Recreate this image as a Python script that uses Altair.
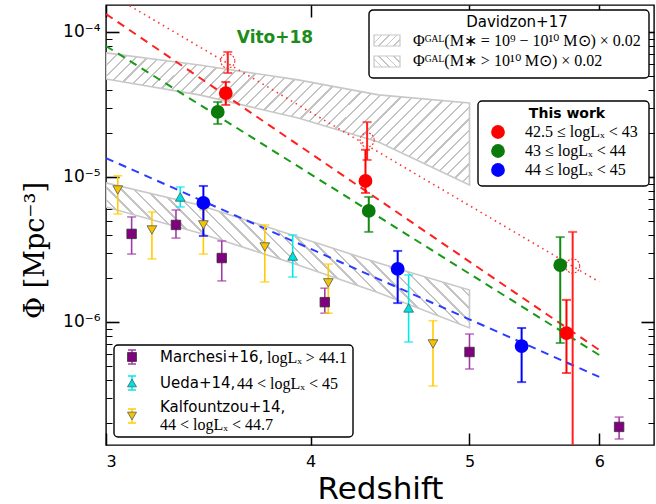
import altair as alt
import pandas as pd

# ---------------- data ----------------
# Vito+18, 42.5 <= logLx < 43 (filled) and the open-circle version
red_z = [3.55, 4.32, 5.73]
red_phi = [3.79e-5, 9.38e-6, 8.39e-7]
red_hi = [4.52e-5, 1.54e-5, 1.42e-6]
red_lo = [3.14e-5, 7.76e-6, 4.45e-7]

red_open_z = [3.56, 4.33, 5.78]
red_open_phi = [6.31e-5, 1.80e-5, 2.43e-6]
red_open_hi = [7.28e-5, 2.39e-5, 4.18e-6]
red_open_lo = [5.21e-5, 1.31e-5, 1.0e-9]

# 43 <= logLx < 44
green_z = [3.51, 4.34, 5.68]
green_phi = [2.81e-5, 5.83e-6, 2.47e-6]
green_hi = [3.29e-5, 7.28e-6, 3.85e-6]
green_lo = [2.32e-5, 4.18e-6, 7.16e-7]

# 44 <= logLx < 45
blue_z = [3.44, 4.52, 5.38]
blue_phi = [6.62e-6, 2.32e-6, 6.82e-7]
blue_hi = [8.67e-6, 3.09e-6, 9.09e-7]
blue_lo = [3.92e-6, 1.35e-6, 3.85e-7]

# Marchesi+16
mar_z = [3.11, 3.31, 3.53, 4.08, 5.00, 6.17]
mar_phi = [4.05e-6, 4.67e-6, 2.76e-6, 1.37e-6, 6.21e-7, 1.89e-7]
mar_hi = [5.30e-6, 5.92e-6, 3.62e-6, 1.71e-6, 8.26e-7, 2.21e-7]
mar_lo = [2.94e-6, 3.79e-6, 1.92e-6, 1.15e-6, 4.74e-7, 1.56e-7]

# Ueda+14
ueda_z = [3.33, 3.90, 4.59]
ueda_phi = [7.28e-6, 2.85e-6, 1.25e-6]
ueda_hi = [8.53e-6, 3.98e-6, 2.11e-6]
ueda_lo = [6.21e-6, 2.04e-6, 7.28e-7]

# Kalfountzou+14
kal_z = [3.05, 3.20, 3.44, 3.75, 4.10, 4.75]
kal_phi = [8.13e-6, 4.31e-6, 4.67e-6, 3.29e-6, 1.86e-6, 7.05e-7]
kal_hi = [1.02e-5, 5.74e-6, 5.92e-6, 4.67e-6, 2.51e-6, 1.02e-6]
kal_lo = [5.56e-6, 2.72e-6, 2.94e-6, 1.89e-6, 1.15e-6, 3.62e-7]

# model curves (end points)
fit_z = [3.0, 6.0]
red_fit = [1.33e-4, 6.41e-7]
green_fit = [8.0e-5, 5.92e-7]
blue_fit = [1.35e-5, 4.18e-7]
red_dot_fit = [1.89e-4, 1.89e-6]

# Davidzon+17 mass functions x 0.02
dav_z = [3.0, 3.42, 3.93, 4.40, 5.0]
dav1_up = [7.17e-5, 5.91e-5, 4.67e-5, 3.68e-5, 3.24e-5]
dav1_lo = [4.74e-5, 3.68e-5, 2.55e-5, 1.74e-5, 8.81e-6]
dav2_up = [9.10e-6, 6.41e-6, 3.86e-6, 2.55e-6, 1.66e-6]
dav2_lo = [6.21e-6, 4.11e-6, 2.47e-6, 1.59e-6, 9.10e-7]

X_DOMAIN = [3.0, 6.48]
Y_DOMAIN = [1.418e-7, 1.534e-4]
W, H = 548, 440

xs = alt.Scale(type="log", domain=X_DOMAIN, nice=False, zero=False)
ys = alt.Scale(type="log", domain=Y_DOMAIN, nice=False, zero=False)

SANS = "DejaVu Sans"
SERIF = "Liberation Serif"
HATCH = "#c4c4c4"


def X(field):
    return alt.X(f"{field}:Q", scale=xs, axis=None)


def Y(field):
    return alt.Y(f"{field}:Q", scale=ys, axis=None)


def hatch(w_px, h_px, spacing, direction, frac=0.2):
    """Striped linear gradient that looks like a hatch pattern."""
    k = (w_px + h_px) / (w_px ** 2 + h_px ** 2)
    n = max(1, round((w_px + h_px) / 2 ** 0.5 / spacing))
    if direction == "/":
        x1, y1, x2, y2 = 0, 0, k * w_px, k * h_px
    else:
        x1, y1, x2, y2 = 0, 1, k * w_px, 1 - k * h_px
    stops = []
    for i in range(n):
        a, b, c = i / n, (i + frac) / n, (i + 1) / n
        stops += [
            {"offset": a, "color": HATCH},
            {"offset": b, "color": HATCH},
            {"offset": b, "color": "white"},
            {"offset": c, "color": "white"},
        ]
    return {"gradient": "linear", "x1": x1, "y1": y1, "x2": x2, "y2": y2, "stops": stops}


def band(z, up, lo, grad):
    df = pd.DataFrame({"z": z, "up": up, "lo": lo})
    return alt.Chart(df).mark_area(
        fill=grad, stroke="#c8c8c8", strokeWidth=1.6, clip=True
    ).encode(x=X("z"), y=Y("up"), y2="lo")


def fit_line(phi, color, dash, width=2.0):
    df = pd.DataFrame({"z": fit_z, "phi": phi})
    return alt.Chart(df).mark_line(
        color=color, strokeDash=dash, strokeWidth=width, clip=True
    ).encode(x=X("z"), y=Y("phi"))


def errbars(z, phi, lo, hi, color, width=1.6, cap=9):
    df = pd.DataFrame({"z": z, "phi": phi, "lo": lo, "hi": hi})
    base = alt.Chart(df)
    rule = base.mark_rule(color=color, strokeWidth=width, clip=True).encode(
        x=X("z"), y=Y("lo"), y2="hi"
    )
    cap_hi = base.mark_tick(
        color=color, orient="horizontal", size=cap, thickness=width, clip=True
    ).encode(x=X("z"), y=Y("hi"))
    cap_lo = base.transform_filter(f"datum.lo >= {Y_DOMAIN[0]}").mark_tick(
        color=color, orient="horizontal", size=cap, thickness=width, clip=True
    ).encode(x=X("z"), y=Y("lo"))
    return [rule, cap_hi, cap_lo]


def points(z, phi, **mark):
    df = pd.DataFrame({"z": z, "phi": phi})
    return alt.Chart(df).mark_point(opacity=1, clip=True, **mark).encode(x=X("z"), y=Y("phi"))


def label(text, x, y, size=15, font=SANS, weight="normal", align="left", color="black"):
    return alt.Chart(pd.DataFrame({"t": [text]})).mark_text(
        align=align, baseline="middle", font=font, fontSize=size,
        fontWeight=weight, color=color
    ).encode(x=alt.value(x), y=alt.value(y), text="t:N")


def box(x0, x1, y0, y1):
    return alt.Chart(pd.DataFrame({"a": [0]})).mark_rect(
        fill="white", stroke="black", strokeWidth=1.4, cornerRadius=4
    ).encode(x=alt.value(x0), x2=alt.value(x1), y=alt.value(y0), y2=alt.value(y1))


def swatch(x0, x1, y0, y1, grad):
    return alt.Chart(pd.DataFrame({"a": [0]})).mark_rect(
        fill=grad, stroke="#c8c8c8", strokeWidth=1.2
    ).encode(x=alt.value(x0), x2=alt.value(x1), y=alt.value(y0), y2=alt.value(y1))


def sym(x, y, **mark):
    return alt.Chart(pd.DataFrame({"a": [0]})).mark_point(opacity=1, **mark).encode(
        x=alt.value(x), y=alt.value(y)
    )


def vbar(x, y0, y1, color, cap=8):
    d = pd.DataFrame({"a": [0]})
    return [
        alt.Chart(d).mark_rule(color=color, strokeWidth=1.5).encode(
            x=alt.value(x), y=alt.value(y0), y2=alt.value(y1)),
        alt.Chart(d).mark_rule(color=color, strokeWidth=1.5).encode(
            x=alt.value(x - cap / 2), x2=alt.value(x + cap / 2), y=alt.value(y0)),
        alt.Chart(d).mark_rule(color=color, strokeWidth=1.5).encode(
            x=alt.value(x - cap / 2), x2=alt.value(x + cap / 2), y=alt.value(y1)),
    ]


# ---------------- layers ----------------
layers = []
layers.append(band(dav_z, dav1_up, dav1_lo, hatch(363, 132, 8, "/")))
layers.append(band(dav_z, dav2_up, dav2_lo, hatch(363, 145, 9, "\\")))

layers.append(fit_line(red_dot_fit, "#ff3030", [1.5, 4], 1.6))
layers.append(fit_line(red_fit, "#ff2020", [8, 6]))
layers.append(fit_line(green_fit, "#169a16", [8, 6]))
layers.append(fit_line(blue_fit, "#2a3cff", [8, 6]))

MAR_BAR = "#a23aa8"
UEDA_C = "#00e8e8"
KAL_C = "#ffcc00"

layers += errbars(mar_z, mar_phi, mar_lo, mar_hi, MAR_BAR)
layers += errbars(kal_z, kal_phi, kal_lo, kal_hi, KAL_C)
layers += errbars(ueda_z, ueda_phi, ueda_lo, ueda_hi, UEDA_C)
layers += errbars(red_open_z, red_open_phi, red_open_lo, red_open_hi, "#ff2020", 2.0)
layers += errbars(green_z, green_phi, green_lo, green_hi, "#118a11", 2.0)
layers += errbars(red_z, red_phi, red_lo, red_hi, "#ff0000", 2.0)
layers += errbars(blue_z, blue_phi, blue_lo, blue_hi, "#0000ff", 2.0)

layers.append(points(mar_z, mar_phi, shape="square", size=90, fill="#800080",
                     stroke="#333333", strokeWidth=0.8, fillOpacity=1))
layers.append(points(kal_z, kal_phi, shape="triangle-down", size=95, fill="#f5c400",
                     stroke="#555555", strokeWidth=0.8, fillOpacity=1))
layers.append(points(ueda_z, ueda_phi, shape="triangle-up", size=95, fill="#00e0e0",
                     stroke="#336666", strokeWidth=0.8, fillOpacity=1))
layers.append(points(red_open_z, red_open_phi, shape="circle", size=200, filled=False,
                     color="#ff3030", strokeWidth=1.1, strokeDash=[2, 1.5]))
layers.append(points(green_z, green_phi, shape="circle", size=190, filled=True, color="#0a7a0a"))
layers.append(points(red_z, red_phi, shape="circle", size=190, filled=True, color="#ff0000"))
layers.append(points(blue_z, blue_phi, shape="circle", size=190, filled=True, color="#0000ff"))

# annotation
layers.append(label("Vito+18", 169, 33, size=17, weight="bold", align="center", color="#1a8c1a"))

# legend: Davidzon+17
layers.append(box(263, 543, 5, 73))
layers.append(label("Davidzon+17", 411, 17, size=15, align="center"))
layers.append(swatch(268, 294, 30, 41, hatch(26, 11, 5, "/")))
layers.append(swatch(268, 294, 51, 62, hatch(26, 11, 5, "\\")))
layers.append(label("Φᴳᴬᴸ(M∗ = 10⁹ − 10¹⁰ M⊙) × 0.02", 307, 36, size=16, font=SERIF))
layers.append(label("Φᴳᴬᴸ(M∗ > 10¹⁰ M⊙) × 0.02", 307, 56, size=16, font=SERIF))

# legend: this work
layers.append(box(372, 543, 96, 181))
layers.append(label("This work", 461, 109, size=14, weight="bold", align="center"))
layers.append(sym(392, 127, shape="circle", size=190, filled=True, color="#ff0000"))
layers.append(sym(392, 146, shape="circle", size=190, filled=True, color="#0a7a0a"))
layers.append(sym(392, 165, shape="circle", size=190, filled=True, color="#0000ff"))
layers.append(label("42.5 ≤ logLₓ < 43", 419, 127, size=16, font=SERIF))
layers.append(label("43 ≤ logLₓ < 44", 419, 146, size=16, font=SERIF))
layers.append(label("44 ≤ logLₓ < 45", 419, 165, size=16, font=SERIF))

# legend: literature
layers.append(box(8, 247, 340, 432))
layers += vbar(26, 345, 359, MAR_BAR)
layers.append(sym(26, 352, shape="square", size=80, fill="#800080", stroke="#333333",
                  strokeWidth=0.8, fillOpacity=1))
layers += vbar(26, 371, 385, UEDA_C)
layers.append(sym(26, 378, shape="triangle-up", size=80, fill="#00e0e0", stroke="#336666",
                  strokeWidth=0.8, fillOpacity=1))
layers += vbar(26, 404, 418, KAL_C)
layers.append(sym(26, 411, shape="triangle-down", size=80, fill="#f5c400", stroke="#555555",
                  strokeWidth=0.8, fillOpacity=1))
layers.append(label("Marchesi+16,", 54, 352, size=15))
layers.append(label("logLₓ > 44.1", 161, 353, size=16, font=SERIF))
layers.append(label("Ueda+14,", 54, 378, size=15))
layers.append(label("44 < logLₓ < 45", 131, 379, size=16, font=SERIF))
layers.append(label("Kalfountzou+14,", 54, 402, size=15))
layers.append(label("44 < logLₓ < 44.7", 54, 420, size=16, font=SERIF))

# ---------------- axes ----------------
x_ticks = [3, 4, 5, 6]
y_major = [1e-6, 1e-5, 1e-4]
y_all = [m * 10.0 ** e for e in (-7, -6, -5, -4) for m in range(1, 10)
         if Y_DOMAIN[0] <= m * 10.0 ** e <= Y_DOMAIN[1]]
is_major = "abs(log(datum.value)/LN10 - round(log(datum.value)/LN10)) < 0.001"
ax_df = pd.DataFrame({"z": [4.0], "phi": [1e-5]})


def axis_layer(xaxis=None, yaxis=None):
    return alt.Chart(ax_df).mark_point(opacity=0).encode(
        x=alt.X("z:Q", scale=xs, axis=xaxis),
        y=alt.Y("phi:Q", scale=ys, axis=yaxis),
    )


common = dict(grid=False, domain=False, labels=False, title=None, tickColor="black")

layers.append(axis_layer(xaxis=alt.Axis(
    orient="bottom", values=x_ticks, format="d", tickSize=0, domain=False, grid=False,
    labelFont=SANS, labelFontSize=16, labelColor="black", labelPadding=8,
    title="Redshift", titleFont=SANS, titleFontSize=31, titleFontWeight="normal",
    titleColor="black", titleBaseline="alphabetic", titleY=53,
)))
layers.append(axis_layer(xaxis=alt.Axis(orient="top", offset=-H, values=x_ticks,
                                        tickSize=12, tickWidth=1.5, **common)))
layers.append(axis_layer(xaxis=alt.Axis(orient="bottom", offset=-H, values=x_ticks,
                                        tickSize=12, tickWidth=1.5, **common)))
layers.append(axis_layer(yaxis=alt.Axis(
    orient="left", values=y_major, tickSize=0, domain=False, grid=False,
    labelExpr="datum.value < 5e-6 ? '10⁻⁶' : (datum.value < 5e-5 ? '10⁻⁵' : '10⁻⁴')",
    labelFont=SANS, labelFontSize=17, labelColor="black", labelPadding=6,
    title="Φ [Mpc⁻³]", titleFont="DejaVu Serif", titleFontSize=27, titleFontWeight="normal",
    titleColor="black", titleAngle=270, titleX=-71, titleY=245,
    titleAlign="center", titleBaseline="middle",
)))
tick_size = {"condition": {"test": is_major, "value": 13}, "value": 6}
tick_width = {"condition": {"test": is_major, "value": 1.6}, "value": 1.0}
layers.append(axis_layer(yaxis=alt.Axis(orient="right", offset=-W, values=y_all,
                                        tickSize=tick_size, tickWidth=tick_width, **common)))
layers.append(axis_layer(yaxis=alt.Axis(orient="left", offset=-W, values=y_all,
                                        tickSize=tick_size, tickWidth=tick_width, **common)))

chart = alt.layer(*layers).resolve_axis(x="independent", y="independent").properties(
    width=W, height=H,
    padding={"left": 106, "top": 5, "right": 2, "bottom": 59},
    autosize=alt.AutoSizeParams(type="none"),
    background="white",
).configure_view(stroke="black", strokeWidth=1.4)

chart.save("out.html", embed_options={"renderer": "svg", "actions": False})
